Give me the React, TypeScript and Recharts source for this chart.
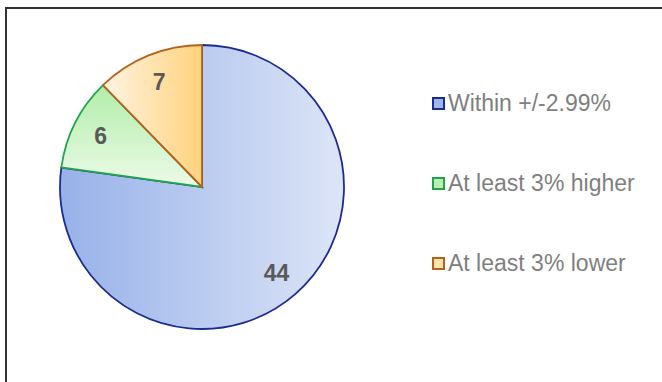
import { PieChart, Pie, Cell, Legend } from 'recharts';

const categories = ['Within +/-2.99%', 'At least 3% higher', 'At least 3% lower'];
const counts = [44, 6, 7];

const STROKES = ['#1c2b8f', '#22a34f', '#b5621c'];
const FILLS = ['url(#gBlue)', 'url(#gGreen)', 'url(#gOrange)'];
const SWATCH = ['#9fb6ea', '#b9efb1', '#ffe2ad'];

const data = categories.map((name, i) => ({ name, value: counts[i] }));

const RADIAN = Math.PI / 180;

const renderLabel = (props: any) => {
  const { cx, cy, midAngle, outerRadius, value } = props;
  const r = outerRadius * 0.8;
  const x = cx + r * Math.cos(-midAngle * RADIAN);
  const y = cy + r * Math.sin(-midAngle * RADIAN);
  return (
    <text
      x={x}
      y={y}
      fill="#595959"
      textAnchor="middle"
      dominantBaseline="central"
      fontFamily="Liberation Sans, Arial, sans-serif"
      fontWeight="bold"
      fontSize={23}
    >
      {value}
    </text>
  );
};

const LegendContent = () => (
  <div>
    {categories.map((c, i) => (
      <div
        key={c}
        style={{ display: 'flex', alignItems: 'center', height: 80 }}
      >
        <span
          style={{
            width: 9,
            height: 9,
            border: `2px solid ${STROKES[i]}`,
            background: SWATCH[i],
            marginRight: 3,
            display: 'inline-block',
          }}
        />
        <span
          style={{
            fontFamily: 'Liberation Sans, Arial, sans-serif',
            fontSize: 23,
            color: '#7f7f7f',
            whiteSpace: 'nowrap',
          }}
        >
          {c}
        </span>
      </div>
    ))}
  </div>
);

export default function App() {
  return (
    <div style={{ position: 'absolute', left: 0, top: 0, width: 662, height: 382, background: '#fff', overflow: 'hidden' }}>
      <div
        style={{
          position: 'absolute',
          left: 5,
          top: 7,
          width: 700,
          height: 400,
          borderTop: '2px solid #333',
          borderLeft: '2px solid #333',
        }}
      />
      <PieChart width={662} height={382} margin={{ top: 0, right: 0, bottom: 0, left: 0 }} style={{ position: 'absolute', left: 0, top: 0 }}>
        <defs>
          <linearGradient id="gBlue" x1="0" y1="0" x2="1" y2="0">
            <stop offset="0%" stopColor="#97b1e9" />
            <stop offset="100%" stopColor="#dde5f7" />
          </linearGradient>
          <linearGradient id="gGreen" x1="0" y1="0" x2="0" y2="1">
            <stop offset="0%" stopColor="#b2eda9" />
            <stop offset="100%" stopColor="#ecfbe8" />
          </linearGradient>
          <linearGradient id="gOrange" x1="0" y1="0" x2="1" y2="0">
            <stop offset="0%" stopColor="#fff4e2" />
            <stop offset="100%" stopColor="#ffd27c" />
          </linearGradient>
        </defs>
        <Pie
          data={data}
          dataKey="value"
          nameKey="name"
          cx={202}
          cy={187}
          outerRadius={142}
          startAngle={90}
          endAngle={-270}
          label={renderLabel}
          labelLine={false}
          isAnimationActive={false}
        >
          {data.map((_d, i) => (
            <Cell key={`cell-${i}`} fill={FILLS[i]} stroke={STROKES[i]} strokeWidth={1.8} />
          ))}
        </Pie>
        <Legend
          layout="vertical"
          content={<LegendContent />}
          wrapperStyle={{ position: 'absolute', left: 432, top: 63, width: 230 }}
        />
      </PieChart>
    </div>
  );
}
